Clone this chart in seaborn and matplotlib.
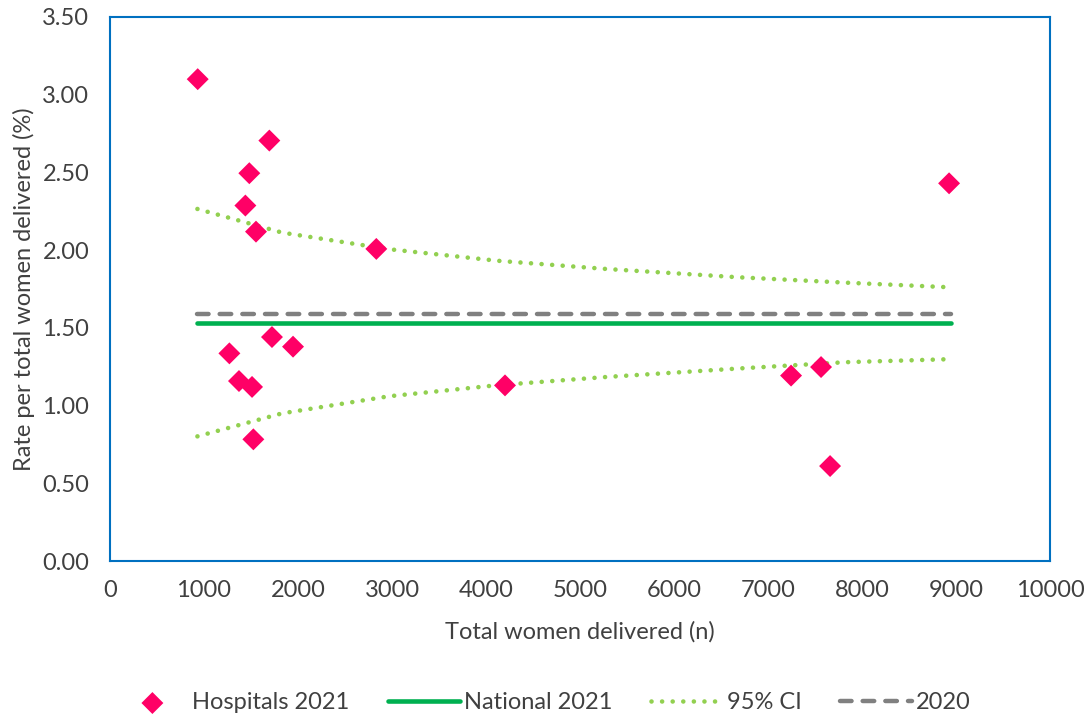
import matplotlib
matplotlib.use("Agg")
import matplotlib.pyplot as plt
import seaborn as sns

# hospital values
hosp_n = [933, 1695, 1482, 1440, 1553, 2833, 1723, 1947, 1270, 1372, 1511, 1525, 4202, 7245, 7564, 7660, 8926]
hosp_rate = [3.10, 2.705, 2.495, 2.287, 2.119, 2.008, 1.441, 1.379, 1.336, 1.158, 1.120, 0.783, 1.13, 1.193, 1.248, 0.611, 2.43]

national_2021 = 1.532
rate_2020 = 1.589

# 95% CI limits
ci_n = [930, 1830, 2968, 4117, 5277, 6670, 7819, 8900]
ci_upper = [2.265, 2.113, 2.006, 1.932, 1.879, 1.826, 1.791, 1.762]
ci_lower = [0.802, 0.950, 1.060, 1.131, 1.184, 1.238, 1.279, 1.298]

line_n = [922, 8947]

sns.set_style("white")
plt.rcParams['font.family'] = ['Lato', 'DejaVu Sans']

fig = plt.figure(figsize=(10.87, 7.2), dpi=100)
ax = fig.add_axes([0.1012, 0.2208, 0.8648, 0.7556])

txt = "#404040"
fs = 17

sns.lineplot(x=ci_n, y=ci_upper, ax=ax, color="#92D050", lw=3.3,
             label="95% CI", dash_capstyle="round")
sns.lineplot(x=ci_n, y=ci_lower, ax=ax, color="#92D050", lw=3.3, label="_nolegend_",
             dash_capstyle="round")
for l in ax.lines:
    l.set_linestyle((0, (0.01, 2.3)))

sns.lineplot(x=line_n, y=[rate_2020] * 2, ax=ax, color="#808080", lw=3.2,
             label="2020", dash_capstyle="round")
ax.lines[-1].set_linestyle((0, (2.6, 2.5)))
sns.lineplot(x=line_n, y=[national_2021] * 2, ax=ax, color="#00B050", lw=3.3,
             label="National 2021", solid_capstyle="round")

sns.scatterplot(x=hosp_n, y=hosp_rate, ax=ax, marker="D", s=125, color="#FF0066",
                edgecolor="none", label="Hospitals 2021", zorder=5)

ax.set_xlim(0, 10000)
ax.set_ylim(0, 3.5)
ax.set_xticks(range(0, 10001, 1000))
ax.set_yticks([i * 0.5 for i in range(8)])
ax.set_yticklabels([f"{i * 0.5:.2f}" for i in range(8)])
ax.tick_params(length=0, labelsize=fs, labelcolor=txt)
ax.tick_params(axis="y", pad=15)
ax.tick_params(axis="x", pad=14)
ax.set_xlabel("Total women delivered (n)", fontsize=fs, color=txt, labelpad=14)
ax.set_ylabel("Rate per total women delivered (%)", fontsize=fs, color=txt, labelpad=5)
for sp in ax.spines.values():
    sp.set_color("#0070C0")
    sp.set_linewidth(1.5)

h, lab = ax.get_legend_handles_labels()
order = ["Hospitals 2021", "National 2021", "95% CI", "2020"]
hd = dict(zip(lab, h))
ax.legend([hd[k] for k in order], order, loc="center", bbox_to_anchor=(0.5, 0.024),
          bbox_transform=fig.transFigure, ncol=4, frameon=False, fontsize=fs,
          handlelength=3.05, handletextpad=0.15, columnspacing=1.65, labelcolor=txt)

fig.savefig("out.png", dpi=100)
